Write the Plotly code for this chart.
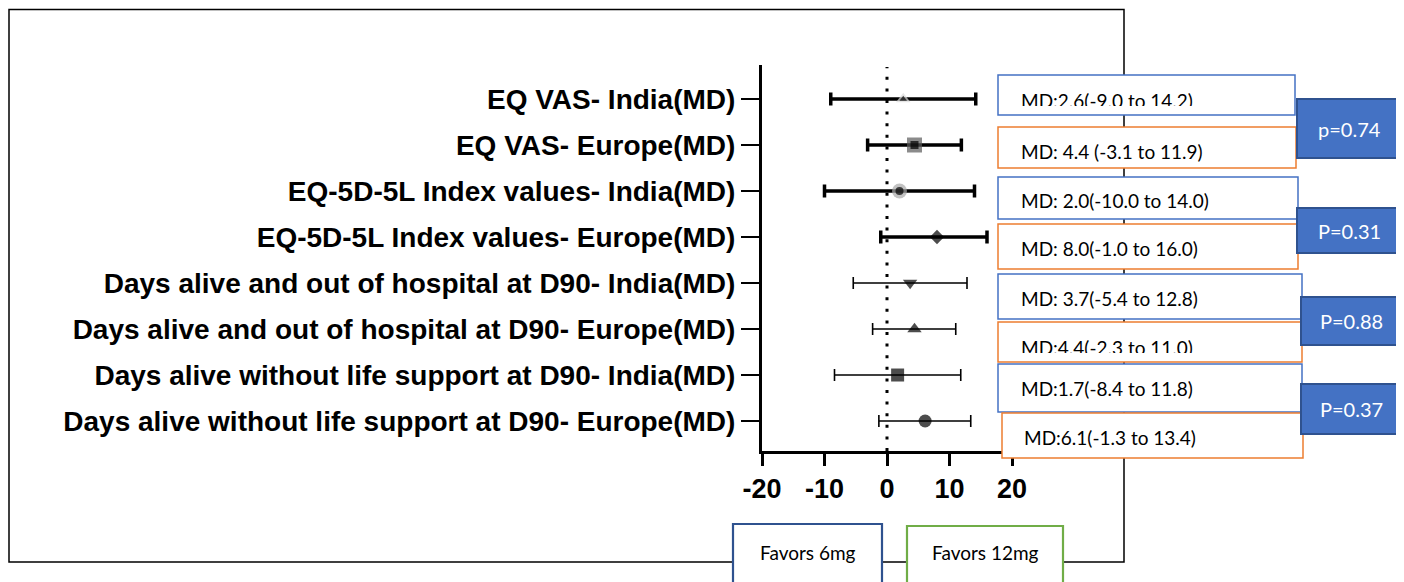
import plotly.graph_objects as go

# ---------------- data ----------------
categories = [
    "EQ VAS- India(MD)",
    "EQ VAS- Europe(MD)",
    "EQ-5D-5L Index values- India(MD)",
    "EQ-5D-5L Index values- Europe(MD)",
    "Days alive and out of hospital at D90- India(MD)",
    "Days alive and out of hospital at D90- Europe(MD)",
    "Days alive without life support at D90- India(MD)",
    "Days alive without life support at D90- Europe(MD)",
]
md = [2.6, 4.4, 2.0, 8.0, 3.7, 4.4, 1.7, 6.1]
ci_low = [-9.0, -3.1, -10.0, -1.0, -5.4, -2.3, -8.4, -1.3]
ci_high = [14.2, 11.9, 14.0, 16.0, 12.8, 11.0, 11.8, 13.4]
md_labels = [
    "MD:2.6(-9.0 to 14.2)",
    "MD: 4.4 (-3.1 to 11.9)",
    "MD: 2.0(-10.0 to 14.0)",
    "MD: 8.0(-1.0 to 16.0)",
    "MD: 3.7(-5.4 to 12.8)",
    "MD:4.4(-2.3 to 11.0)",
    "MD:1.7(-8.4 to 11.8)",
    "MD:6.1(-1.3 to 13.4)",
]
p_labels = ["p=0.74", "P=0.31", "P=0.88", "P=0.37"]
x_ticks = [-20, -10, 0, 10, 20]
favor_labels = ["Favors 6mg", "Favors 12mg"]

# ---------------- layout helpers ----------------
OFF = 8                      # page body margin of the browser
W, H = 1404 - OFF, 582 - OFF
def px(x):
    return (x - OFF) / W
def py(y):
    return 1 - (y - OFF) / H

n = len(categories)
ypos = [n - i for i in range(n)]  # top row highest

thick = list(range(0, 4))
thin = list(range(4, 8))

outer_symbols = ["triangle-up", "square", "circle", "diamond",
                 "triangle-down", "triangle-up", "square", "circle"]
outer_sizes = [12.5, 15, 15, 11, 12.5, 12.5, 13, 13]
outer_colors = ["#DCDCDC", "#5A5A5A", "#A8A8A8", "black",
                "black", "black", "black", "black"]

fig = go.Figure()

def add_group(idx, is_thick, capw):
    fig.add_trace(go.Scatter(
        x=[md[i] for i in idx],
        y=[ypos[i] for i in idx],
        mode="markers",
        marker=dict(symbol=[outer_symbols[i] for i in idx],
                    size=[outer_sizes[i] for i in idx],
                    color=[outer_colors[i] for i in idx],
                    line=dict(width=0)),
        error_x=dict(type="data", symmetric=False,
                     array=[ci_high[i] - md[i] for i in idx],
                     arrayminus=[md[i] - ci_low[i] for i in idx],
                     color="black", thickness=3.5 if is_thick else 1.6,
                     width=capw),
        showlegend=False, hoverinfo="skip",
    ))

add_group(thick, True, 6.5)
add_group(thin, False, 6)

# inner black marks for the first three rows
inner_idx = [0, 1, 2]
fig.add_trace(go.Scatter(
    x=[md[i] for i in inner_idx],
    y=[ypos[i] for i in inner_idx],
    mode="markers",
    marker=dict(symbol=[outer_symbols[i] for i in inner_idx],
                size=[6.5, 8, 8], color="black", line=dict(width=0)),
    showlegend=False, hoverinfo="skip",
))

y_range = [0.348, 8.739]
fig.update_layout(
    width=W, height=H,
    margin=dict(l=0, r=0, t=0, b=0, autoexpand=False),
    paper_bgcolor="white", plot_bgcolor="white",
    xaxis=dict(domain=[px(762), px(1012)], range=[-20, 20],
               automargin=False,
               tickvals=x_ticks, ticktext=[str(v) for v in x_ticks],
               ticks="outside", ticklen=12, tickwidth=3, tickcolor="black",
               showline=True, linewidth=3, linecolor="black",
               showgrid=False, zeroline=False,
               tickfont=dict(family="Liberation Sans, Arial", size=27,
                             color="black", weight=700)),
    yaxis=dict(domain=[py(451), py(65)], range=y_range,
               automargin=False,
               tickvals=ypos, ticktext=categories,
               ticks="outside", ticklen=18, tickwidth=2, tickcolor="black",
               showline=True, linewidth=3, linecolor="black",
               showgrid=False, zeroline=False,
               tickfont=dict(family="Liberation Sans, Arial", size=28,
                             color="black", weight=700)),
)

shapes = []
# outer frame
shapes.append(dict(type="rect", xref="paper", yref="paper",
                   x0=px(9), x1=px(1124), y0=py(562), y1=py(9.5),
                   line=dict(color="black", width=1.5), layer="below"))
# dotted zero line
shapes.append(dict(type="line", xref="x", yref="y domain",
                   x0=0, x1=0, y0=0, y1=0.995,
                   line=dict(color="black", width=3, dash="3px,8.6px"),
                   layer="above"))

md_boxes = [
    (998, 75, 1295, 115), (998, 127, 1296, 168),
    (998, 177, 1298, 219), (998, 224, 1298, 269),
    (998, 274, 1302, 319), (998, 322, 1302, 362),
    (998, 364, 1302, 412), (1002, 413, 1303, 458),
]
md_text_y = [100, 151, 200, 248, 298, 347, 388, 437]
md_text_x = [1019, 1019, 1019, 1019, 1019, 1019, 1019, 1022]
box_colors = ["#4472C4", "#ED7D31"]
for i, (x0, y0, x1, y1) in enumerate(md_boxes):
    shapes.append(dict(type="rect", xref="paper", yref="paper",
                       x0=px(x0), x1=px(x1), y0=py(y1), y1=py(y0),
                       line=dict(color=box_colors[i % 2], width=1.5),
                       fillcolor="white", layer="above"))

p_boxes = [(1297, 99, 1402, 158), (1297, 208, 1402, 253),
           (1301, 297, 1402, 345), (1301, 384, 1402, 434)]
for (x0, y0, x1, y1) in p_boxes:
    shapes.append(dict(type="rect", xref="paper", yref="paper",
                       x0=px(x0), x1=px(x1), y0=py(y1), y1=py(y0),
                       line=dict(color="#2F528F", width=2),
                       fillcolor="#4472C4", layer="above"))

fav_boxes = [(733, 524, 882, 600), (907, 526, 1063, 600)]
fav_colors = ["#2F528F", "#70AD47"]
for (x0, y0, x1, y1), c in zip(fav_boxes, fav_colors):
    shapes.append(dict(type="rect", xref="paper", yref="paper",
                       x0=px(x0), x1=px(x1), y0=py(y1), y1=py(y0),
                       line=dict(color=c, width=2.2),
                       fillcolor="white", layer="above"))

annotations = []
body_font = dict(family="Lato, Carlito, Open Sans", size=19, color="black")
for i, t in enumerate(md_labels):
    annotations.append(dict(xref="paper", yref="paper",
                            x=px(md_text_x[i]), y=py(md_text_y[i]),
                            xanchor="left", yanchor="middle",
                            text=t, showarrow=False, font=body_font))

# covers to mimic the clipped text inside boxes 1 and 6
for bi, ctop in ((0, 105.5), (5, 352.5)):
    x0, y0, x1, y1 = md_boxes[bi]
    annotations.append(dict(xref="paper", yref="paper",
                            x=px(x0 + 3), y=py(ctop),
                            xanchor="left", yanchor="top",
                            text=" ", showarrow=False,
                            width=x1 - x0 - 6, height=y1 - ctop - 1.5,
                            bgcolor="white", borderpad=0, borderwidth=0))

for (x0, y0, x1, y1), t in zip(p_boxes, p_labels):
    annotations.append(dict(xref="paper", yref="paper",
                            x=px((x0 + x1) / 2), y=py((y0 + y1) / 2),
                            xanchor="center", yanchor="middle",
                            text=t, showarrow=False,
                            font=dict(family="Lato, Carlito, Open Sans",
                                      size=20, color="white")))

for (x0, y0, x1, y1), t in zip(fav_boxes, favor_labels):
    annotations.append(dict(xref="paper", yref="paper",
                            x=px((x0 + x1) / 2), y=py(552),
                            xanchor="center", yanchor="middle",
                            text=t, showarrow=False,
                            font=dict(family="Lato, Carlito, Open Sans",
                                      size=19, color="black")))

fig.update_layout(shapes=shapes, annotations=annotations)
fig.write_html("out.html")
